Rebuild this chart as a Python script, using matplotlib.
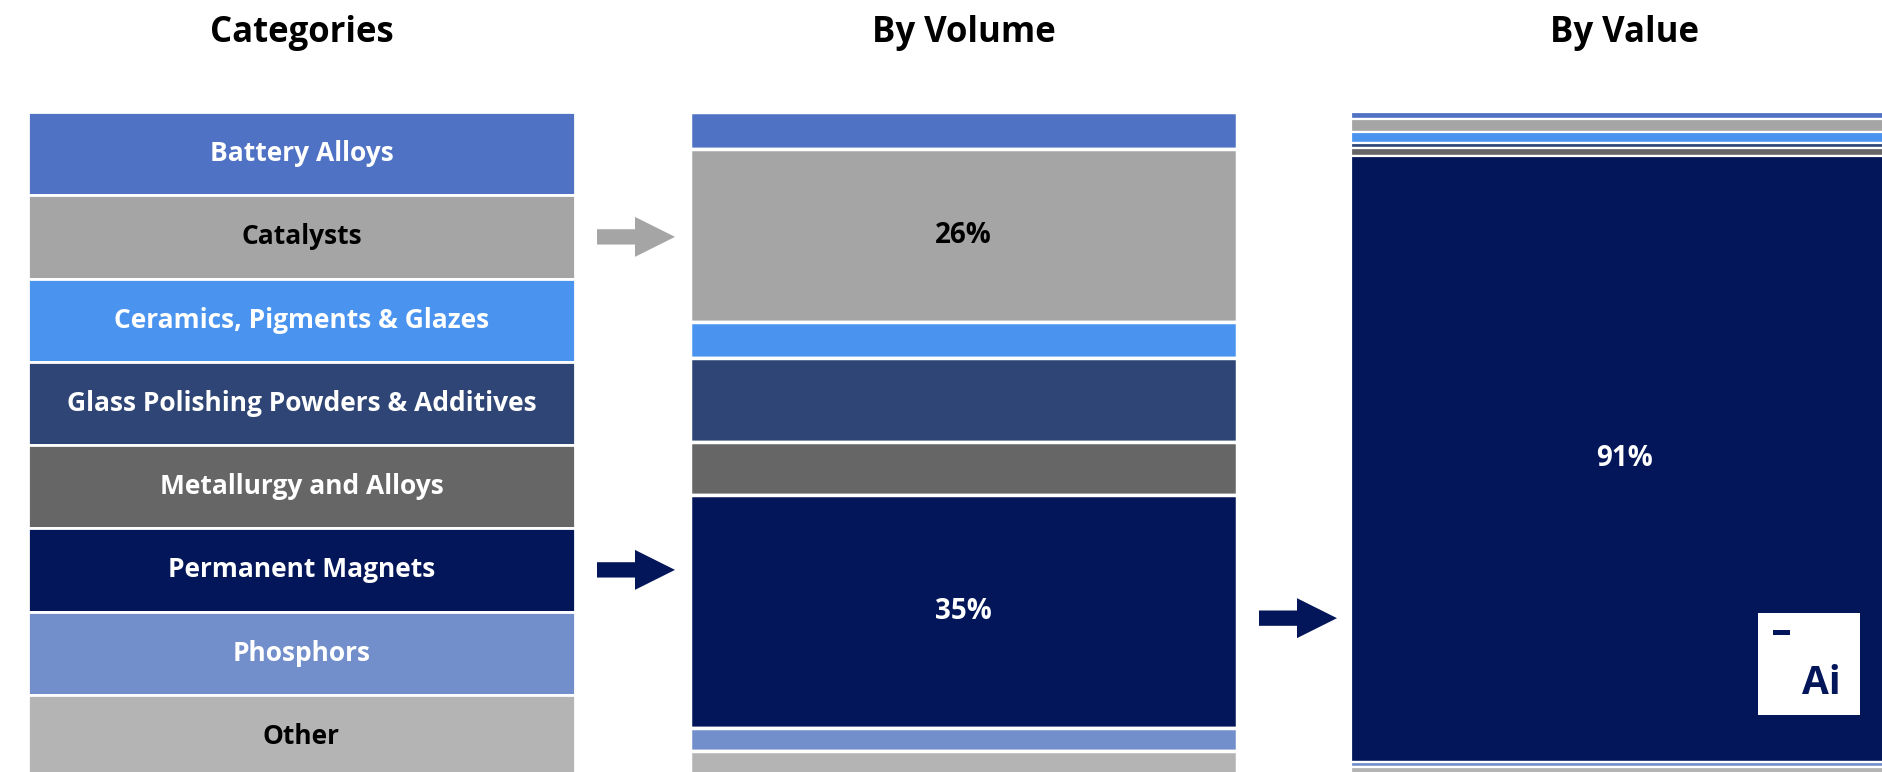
import numpy as np
import matplotlib.pyplot as plt
from matplotlib.patches import FancyArrow, Rectangle
from matplotlib.transforms import blended_transform_factory

# Rare earth demand: categories, share by volume and by value (%)
categories = ['Battery Alloys', 'Catalysts', 'Ceramics, Pigments & Glazes',
              'Glass Polishing Powders & Additives', 'Metallurgy and Alloys',
              'Permanent Magnets', 'Phosphors', 'Other']
volume_share = [5.5, 26, 5.5, 12.5, 8, 35, 3.5, 4]
value_share = [1.0, 2.0, 1.6, 0.8, 1.2, 91, 0.8, 1.6]
colors = ['#4f72c4', '#a5a5a5', '#4a94f0', '#2e4575',
          '#666666', '#031659', '#728fcb', '#b4b4b4']
text_colors = ['white', 'black', 'white', 'white', 'white', 'white', 'white', 'black']
headers = ['Categories', 'By Volume', 'By Value']

plt.rcParams['font.family'] = ['Open Sans', 'DejaVu Sans']

W, H = 1883, 772
fig = plt.figure(figsize=(W / 100, H / 100), dpi=100)
fig.patch.set_facecolor('white')

col_left = [28, 690, 1351]   # px
col_width = 547


def column_axes(left):
    ax = fig.add_axes([left / W, -6 / H, col_width / W, 666 / H])
    ax.set_xlim(0, 1)
    ax.set_ylim(100, 0)
    ax.axis('off')
    return ax


ax_cat = column_axes(col_left[0])
ax_vol = column_axes(col_left[1])
ax_val = column_axes(col_left[2])


def stacked(ax, shares, lw):
    shares = np.asarray(shares, dtype=float)
    starts = np.concatenate([[0], np.cumsum(shares)[:-1]])
    ax.bar(0.5, shares, width=1, bottom=starts, color=colors,
           edgecolor='white', linewidth=lw)
    return starts + shares / 2


# Categories column: equal rows with names
cat_mid = stacked(ax_cat, [100 / len(categories)] * len(categories), 2.0)
for name, y, tc in zip(categories, cat_mid, text_colors):
    ax_cat.text(0.5, y, name, ha='center', va='center', color=tc,
                fontsize=19, fontweight='bold')

vol_mid = stacked(ax_vol, volume_share, 2.5)
for share, y, tc in zip(volume_share, vol_mid, text_colors):
    if share >= 20:
        ax_vol.text(0.5, y, f'{share:.0f}%', ha='center', va='center',
                    color=tc, fontsize=20, fontweight='bold')

val_mid = stacked(ax_val, value_share, 1.6)
for share, y, tc in zip(value_share, val_mid, text_colors):
    if share >= 20:
        ax_val.text(0.5, y, f'{share:.0f}%', ha='center', va='center',
                    color=tc, fontsize=20, fontweight='bold')

# headers
for left, title in zip(col_left, headers):
    fig.text((left + col_width / 2) / W, 1 - 33 / H, title, ha='center',
             va='center', fontsize=25, fontweight='bold')


# arrows between columns
def arrow(ax, y, from_col, color):
    trans = blended_transform_factory(fig.transFigure, ax.transData)
    x0 = (col_left[from_col] + col_width + 22) / W
    a = FancyArrow(x0, y, 78 / W, 0, width=2.3, head_width=6.0,
                   head_length=40 / W, length_includes_head=True,
                   color=color, transform=trans, linewidth=0)
    fig.add_artist(a)


arrow(ax_cat, cat_mid[1], 0, colors[1])
arrow(ax_cat, cat_mid[5], 0, colors[5])
arrow(ax_vol, vol_mid[5] + 1, 1, colors[5])

# small logo in the corner
fig.add_artist(Rectangle((1758 / W, 1 - 715 / H), 102 / W, 102 / H,
                         transform=fig.transFigure, color='white', linewidth=0))
fig.add_artist(Rectangle((1773 / W, 1 - 635 / H), 17 / W, 5 / H,
                         transform=fig.transFigure, color=colors[5], linewidth=0))
fig.text(1821 / W, 1 - 683 / H, 'Ai', ha='center', va='center',
         fontsize=28, fontweight='bold', color=colors[5])

plt.savefig('out.png', dpi=100)
